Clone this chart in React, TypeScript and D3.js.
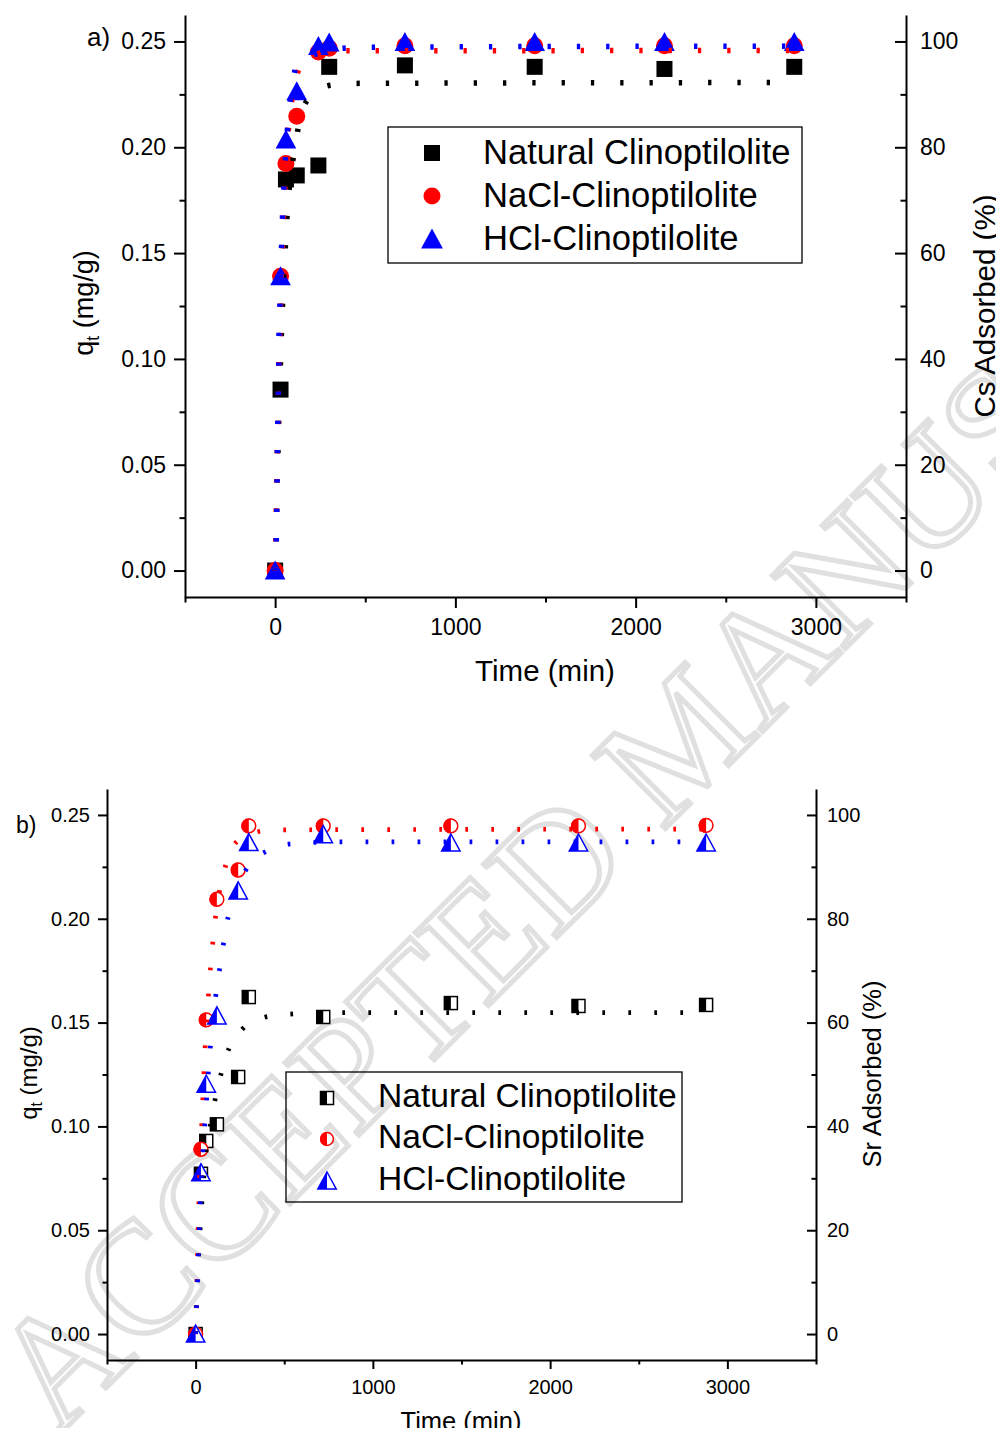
import React, { useEffect, useRef } from 'react';
import * as d3 from 'd3';

const seriesNames = ['Natural Clinoptilolite', 'NaCl-Clinoptilolite', 'HCl-Clinoptilolite'];
const seriesColors = ['#000000', '#ff0000', '#0000ff'];
const seriesShapes = ['square', 'circle', 'triangle'];

// contact times (min)
const contactTime = [0, 30, 60, 120, 240, 300, 720, 1440, 2160, 2880];

// a) Cs uptake, qt (mg/g)
const csNatural = [0, 0.0855, 0.1848, 0.1867, 0.1914, 0.238, 0.2387, 0.238, 0.237, 0.238];
const csNaCl = [0, 0.139, 0.1923, 0.2147, 0.245, 0.2468, 0.248, 0.248, 0.248, 0.248];
const csHCl = [0, 0.139, 0.2037, 0.2265, 0.2478, 0.2495, 0.2497, 0.2497, 0.2497, 0.2497];

// a) dotted model curves
const csNaturalFitT = [0, 5, 12, 20, 30, 42, 55, 68, 85, 107, 134, 186, 313, 475, 2880];
const csNaturalFitQ = [0, 0.0143, 0.0427, 0.071, 0.0994, 0.1277, 0.15, 0.17, 0.186, 0.198, 0.212, 0.223, 0.2294, 0.2302, 0.2306];
const csNaClFitT = [0, 5.5, 7.2, 9.4, 12.7, 16.6, 22, 27.6, 31.5, 37, 42.5, 50, 68, 110, 153, 309, 475, 2880];
const csNaClFitQ = [0, 0.018, 0.032, 0.046, 0.06, 0.075, 0.1026, 0.1167, 0.131, 0.145, 0.159, 0.1735, 0.2018, 0.2297, 0.24, 0.2454, 0.2456, 0.2457];
const csHClFitT = [0, 7, 11, 12.7, 15, 20.4, 22, 27.6, 37, 42.5, 51, 73.5, 133, 414, 575, 2880];
const csHClFitQ = [0, 0.0156, 0.0444, 0.058, 0.0723, 0.1007, 0.1148, 0.128, 0.157, 0.171, 0.185, 0.2136, 0.2407, 0.247, 0.2473, 0.2478];

// b) Sr uptake, qt (mg/g)
const srNatural = [0, 0.0772, 0.093, 0.101, 0.1238, 0.1623, 0.1527, 0.1594, 0.158, 0.1585];
const srNaCl = [0, 0.089, 0.1513, 0.2094, 0.2235, 0.2447, 0.2447, 0.2447, 0.2447, 0.245];
const srHCl = [0, 0.0777, 0.1203, 0.1532, 0.2134, 0.2367, 0.2405, 0.2365, 0.2365, 0.2365];

// b) dotted model curves
const srNaturalFitT = [0, 4, 10, 18, 27, 37, 48, 62, 86, 113, 147, 190, 265, 382, 516, 805, 2880];
const srNaturalFitQ = [0, 0.0156, 0.028, 0.0405, 0.0528, 0.0654, 0.0775, 0.0897, 0.102, 0.1143, 0.1264, 0.138, 0.147, 0.1524, 0.154, 0.1548, 0.1548];
const srNaClFitT = [0, 5, 8, 11, 14, 18, 22, 28, 34, 40, 46, 53, 62, 71, 81, 94, 109, 130, 160, 203, 260, 330, 442, 2880];
const srNaClFitQ = [0, 0.0127, 0.025, 0.0376, 0.05, 0.0621, 0.0748, 0.087, 0.0995, 0.112, 0.1243, 0.1367, 0.149, 0.1612, 0.1737, 0.186, 0.1985, 0.211, 0.2227, 0.2335, 0.239, 0.2415, 0.2428, 0.2432];
const srHClFitT = [0, 3, 9, 14, 18, 24, 30, 38, 46, 58, 67, 77, 90, 106, 122, 147, 166, 200, 250, 307, 414, 551, 800, 2880];
const srHClFitQ = [0, 0.0083, 0.0207, 0.033, 0.0456, 0.058, 0.0705, 0.083, 0.095, 0.107, 0.12, 0.132, 0.1444, 0.157, 0.169, 0.1813, 0.1936, 0.2057, 0.218, 0.2265, 0.2331, 0.2362, 0.237, 0.237];

// axes
const timeTicks = [0, 1000, 2000, 3000];
const timeMinorTicks = [-500, 500, 1500, 2500, 3500];
const qTicks = [0, 0.05, 0.1, 0.15, 0.2, 0.25];
const qMinorTicks = [0.025, 0.075, 0.125, 0.175, 0.225];
const pctTicks = [0, 20, 40, 60, 80, 100];
const pctMinorTicks = [10, 30, 50, 70, 90];

const FONT = "'Liberation Sans', Arial, Helvetica, sans-serif";

function drawMarker(g: any, shape: string, half: boolean, cx: number, cy: number, s: number, color: string) {
  const m = g.append('g').attr('transform', `translate(${cx},${cy})`);
  if (shape === 'square') {
    if (half) {
      m.append('rect').attr('x', -s / 2).attr('y', -s / 2).attr('width', s).attr('height', s)
        .attr('fill', '#fff').attr('stroke', color).attr('stroke-width', 1.5);
      m.append('rect').attr('x', -s / 2).attr('y', -s / 2).attr('width', s / 2).attr('height', s).attr('fill', color);
    } else {
      m.append('rect').attr('x', -s / 2).attr('y', -s / 2).attr('width', s).attr('height', s).attr('fill', color);
    }
  } else if (shape === 'circle') {
    const r = s / 2;
    if (half) {
      m.append('circle').attr('r', r - 0.6).attr('fill', '#fff').attr('stroke', color).attr('stroke-width', 1.5);
      m.append('path').attr('d', `M0,${-r}A${r},${r} 0 0 0 0,${r}Z`).attr('fill', color);
    } else {
      m.append('circle').attr('r', r).attr('fill', color);
    }
  } else {
    const w = s * 1.15;
    const h = s;
    const tri = `M0,${-h / 2 - 1}L${w / 2},${h / 2}L${-w / 2},${h / 2}Z`;
    if (half) {
      m.append('path').attr('d', tri).attr('fill', '#fff').attr('stroke', color).attr('stroke-width', 1.5);
      m.append('path').attr('d', `M0,${-h / 2 - 1}L${-w / 2},${h / 2}L0,${h / 2}Z`).attr('fill', color);
    } else {
      m.append('path').attr('d', tri).attr('fill', color);
    }
  }
}

function drawPanel(root: any, p: any) {
  const x = d3.scaleLinear().domain([-500, 3500]).range([p.left, p.right]);
  const y = d3.scaleLinear().domain([-0.0125, 0.2625]).range([p.bottom, p.top]);
  const yPct = d3.scaleLinear().domain([-5, 105]).range([p.bottom, p.top]);
  const g = root.append('g');

  const styleAxis = (sel: any) => {
    sel.selectAll('path,line').attr('stroke', '#000').attr('stroke-width', 2);
    sel.selectAll('text').attr('font-family', FONT).attr('font-size', p.tickFont).attr('fill', '#000');
  };

  // bottom axis
  g.append('g').attr('transform', `translate(0,${p.bottom})`)
    .call(d3.axisBottom(x).tickValues(timeTicks).tickFormat(d3.format('d')).tickSize(p.tick).tickSizeOuter(0).tickPadding(p.xPad))
    .call(styleAxis);
  g.append('g').attr('transform', `translate(0,${p.bottom})`)
    .call(d3.axisBottom(x).tickValues(timeMinorTicks).tickFormat(() => '').tickSize(p.tick / 2).tickSizeOuter(0))
    .call(styleAxis).select('.domain').remove();

  // left axis
  g.append('g').attr('transform', `translate(${p.left},0)`)
    .call(d3.axisLeft(y).tickValues(qTicks).tickFormat(d3.format('.2f')).tickSize(p.tick).tickSizeOuter(0).tickPadding(p.yPad))
    .call(styleAxis);
  g.append('g').attr('transform', `translate(${p.left},0)`)
    .call(d3.axisLeft(y).tickValues(qMinorTicks).tickFormat(() => '').tickSize(p.tick / 2).tickSizeOuter(0))
    .call(styleAxis).select('.domain').remove();

  // right axis (percent adsorbed), ticks inward
  g.append('g').attr('transform', `translate(${p.right},0)`)
    .call(d3.axisRight(yPct).tickValues(pctTicks).tickFormat(d3.format('d')).tickSize(-p.tick).tickSizeOuter(0).tickPadding(p.rPad))
    .call(styleAxis);
  g.append('g').attr('transform', `translate(${p.right},0)`)
    .call(d3.axisRight(yPct).tickValues(pctMinorTicks).tickFormat(() => '').tickSize(-p.tick / 2).tickSizeOuter(0))
    .call(styleAxis).select('.domain').remove();

  // markers
  p.series.forEach((vals: number[], i: number) => {
    vals.forEach((v, j) => {
      drawMarker(g, seriesShapes[i], p.half, x(contactTime[j]), y(v), p.markerSize[i], seriesColors[i]);
    });
  });

  // dotted model curves
  const line = d3.line<[number, number]>().x(d => x(d[0])).y(d => y(d[1])).curve(d3.curveMonotoneX);
  p.fits.forEach((f: number[][], i: number) => {
    const pts = f[0].map((t, k) => [t, f[1][k]] as [number, number]);
    g.append('path').attr('d', line(pts)).attr('fill', 'none')
      .attr('stroke', seriesColors[i]).attr('stroke-width', p.dotWidth)
      .attr('stroke-dasharray', p.dash);
  });

  // axis titles
  g.append('text').attr('x', (p.titleX)).attr('y', p.titleY).attr('text-anchor', 'middle')
    .attr('font-family', FONT).attr('font-size', p.titleFont).text('Time (min)');
  const yl = g.append('text').attr('transform', `translate(${p.yTitle[0]},${p.yTitle[1]}) rotate(-90)`)
    .attr('text-anchor', 'middle').attr('font-family', FONT).attr('font-size', p.yTitleFont);
  yl.append('tspan').text('q');
  yl.append('tspan').attr('font-size', p.yTitleFont * 0.65).attr('dy', p.yTitleFont * 0.22).text('t');
  yl.append('tspan').attr('dy', -p.yTitleFont * 0.22).text(' (mg/g)');
  g.append('text').attr('transform', `translate(${p.rTitle[0]},${p.rTitle[1]}) rotate(-90)`)
    .attr('text-anchor', 'middle').attr('font-family', FONT).attr('font-size', p.rTitleFont).text(p.rTitleText);
  g.append('text').attr('x', p.tag[0]).attr('y', p.tag[1]).attr('font-family', FONT)
    .attr('font-size', p.tagFont).text(p.tagText);

  // legend
  const L = p.legend;
  g.append('rect').attr('x', L.x0).attr('y', L.y0).attr('width', L.x1 - L.x0).attr('height', L.y1 - L.y0)
    .attr('fill', 'none').attr('stroke', '#000').attr('stroke-width', 1.3);
  seriesNames.forEach((name, i) => {
    drawMarker(g, seriesShapes[i], p.half, L.mx, L.my[i], L.size[i], seriesColors[i]);
    g.append('text').attr('x', L.tx).attr('y', L.ty[i]).attr('font-family', FONT)
      .attr('font-size', L.font).text(name);
  });
}

export default function App() {
  const ref = useRef<SVGSVGElement>(null);

  useEffect(() => {
    if (!ref.current) return;
    const svg = d3.select(ref.current);
    svg.selectAll('*').remove();

    svg.append('rect').attr('width', 1004).attr('height', 1436).attr('fill', '#fff');

    // watermark
    svg.append('text')
      .attr('transform', 'translate(57,1437) rotate(-45)')
      .attr('font-family', "'Liberation Serif', 'DejaVu Serif', serif")
      .attr('font-size', 158)
      .attr('fill', 'none')
      .attr('stroke', '#e0e0e0')
      .attr('stroke-width', 5)
      .text('ACCEPTED MANUSCRIPT');

    drawPanel(svg, {
      left: 185, right: 906, top: 15, bottom: 597,
      tick: 11, xPad: 11, yPad: 8, rPad: 14, tickFont: 23,
      half: false,
      series: [csNatural, csNaCl, csHCl],
      markerSize: [16, 17, 18],
      fits: [[csNaturalFitT, csNaturalFitQ], [csNaClFitT, csNaClFitQ], [csHClFitT, csHClFitQ]],
      dotWidth: 5.5, dash: '3.3 26',
      titleX: 545, titleY: 681, titleFont: 29.5,
      yTitle: [93, 303], yTitleFont: 27,
      rTitle: [995, 306], rTitleFont: 29.5, rTitleText: 'Cs Adsorbed (%)',
      tag: [87, 46], tagFont: 26, tagText: 'a)',
      legend: {
        x0: 388, y0: 127, x1: 802, y1: 263,
        mx: 432, my: [153, 196, 239], size: [16, 17, 19],
        tx: 483, ty: [164, 207, 250], font: 34.6,
      },
    });

    drawPanel(svg, {
      left: 107, right: 816, top: 789, bottom: 1360,
      tick: 9, xPad: 11, yPad: 8, rPad: 11, tickFont: 20,
      half: true,
      series: [srNatural, srNaCl, srHCl],
      markerSize: [13, 15, 16],
      fits: [[srNaturalFitT, srNaturalFitQ], [srNaClFitT, srNaClFitQ], [srHClFitT, srHClFitQ]],
      dotWidth: 4.7, dash: '2.7 23.3',
      titleX: 461, titleY: 1430, titleFont: 25.5,
      yTitle: [37, 1073], yTitleFont: 24,
      rTitle: [881, 1074], rTitleFont: 25.5, rTitleText: 'Sr Adsorbed (%)',
      tag: [16, 833], tagFont: 23, tagText: 'b)',
      legend: {
        x0: 286, y0: 1072, x1: 682, y1: 1202,
        mx: 327, my: [1098, 1139, 1181], size: [13, 14, 16],
        tx: 378, ty: [1107, 1148, 1190], font: 33.6,
      },
    });
  }, []);

  return <svg ref={ref} width={1004} height={1436} style={{ display: 'block', margin: '-8px' }} />;
}
